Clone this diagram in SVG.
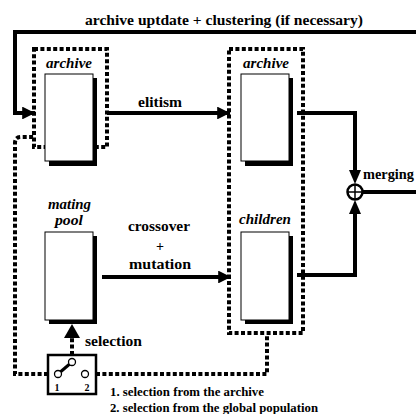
<svg xmlns="http://www.w3.org/2000/svg" width="416" height="414" viewBox="0 0 416 414">
<defs>
<style>
text{font-family:"Liberation Serif","Times New Roman",serif;font-weight:bold;fill:#000}
.it{font-style:italic}
.dot{fill:none;stroke:#000;stroke-width:4;stroke-dasharray:4 2.4}
.ln{fill:none;stroke:#000;stroke-width:4}
.box{fill:#fff;stroke:#000;stroke-width:1}
</style>
<marker id="ah" viewBox="0 0 10 10" refX="10" refY="5" markerWidth="4" markerHeight="3.2" orient="auto" markerUnits="strokeWidth">
<path d="M0,0 L10,5 L0,10 z" fill="#000"/>
</marker>
</defs>
<rect width="416" height="414" fill="#fff"/>
<g id="connectors">
<path class="ln" d="M416,32 H15 V113 H35" marker-end="url(#ah)"/>
<path class="ln" d="M107,113 H230" marker-end="url(#ah)"/>
<path class="ln" d="M102,277 H231" marker-end="url(#ah)"/>
<path class="ln" d="M297,113 H355 V170"/>
<path d="M349,170 L361,170 L355,184 z" fill="#000"/>
<path class="ln" d="M297,275 H355 V214"/>
<path d="M349,214 L361,214 L355,200 z" fill="#000"/>
<path class="ln" d="M363,192 H416"/>
<path class="dot" d="M48,374 H15 V143 Q15,137 21,137 H34"/>
<path class="dot" d="M96,374 H267 V334"/>
<path class="dot" d="M72,355 V338"/>
<path d="M64,338 L80,338 L72,324 z" fill="#000"/>
</g>
<g id="archive-left">
<rect class="dot" x="34" y="49" width="73" height="98"/>
<text class="it" x="46" y="68" font-size="14" textLength="46" lengthAdjust="spacingAndGlyphs">archive</text>
<rect x="49" y="78" width="48" height="88" fill="#000"/>
<rect class="box" x="45" y="74" width="48" height="87"/>
</g>
<g id="population-right">
<rect class="dot" x="229" y="49" width="74" height="284"/>
<text class="it" x="243" y="68" font-size="14" textLength="46" lengthAdjust="spacingAndGlyphs">archive</text>
<rect x="245" y="78" width="48" height="88" fill="#000"/>
<rect class="box" x="241" y="74" width="48" height="87"/>
<text class="it" x="239" y="224" font-size="14" textLength="52" lengthAdjust="spacingAndGlyphs">children</text>
<rect x="245" y="236" width="48" height="88" fill="#000"/>
<rect class="box" x="241" y="232" width="48" height="88"/>
</g>
<g id="mating-pool">
<text class="it" x="48" y="209" font-size="14" textLength="43" lengthAdjust="spacingAndGlyphs">mating</text>
<text class="it" x="55" y="225" font-size="14" textLength="28" lengthAdjust="spacingAndGlyphs">pool</text>
<rect x="49" y="236" width="48" height="88" fill="#000"/>
<rect class="box" x="45" y="232" width="48" height="88"/>
</g>
<g id="merging">
<circle cx="355" cy="192" r="7.5" fill="#fff" stroke="#000" stroke-width="2.5"/>
<path d="M347.5,192 H362.5 M355,184.5 V199.5" stroke="#000" stroke-width="1.5"/>
<text x="363" y="179" font-size="14" textLength="51" lengthAdjust="spacingAndGlyphs">merging</text>
</g>
<g id="switch">
<rect x="48" y="355" width="48" height="39" fill="#fff" stroke="#000" stroke-width="2.5"/>
<path d="M58,374 L72,362" stroke="#000" stroke-width="3"/>
<circle cx="58" cy="374" r="3.5" fill="#fff" stroke="#000" stroke-width="1.3"/>
<circle cx="72" cy="362" r="3.5" fill="#fff" stroke="#000" stroke-width="1.3"/>
<circle cx="85" cy="374" r="3.5" fill="#fff" stroke="#000" stroke-width="1.3"/>
<text x="57" y="391" text-anchor="middle" font-size="10">1</text>
<text x="87" y="391" text-anchor="middle" font-size="10">2</text>
</g>
<g id="labels">
<text x="85" y="25" font-size="14.5" textLength="278" lengthAdjust="spacingAndGlyphs">archive uptdate + clustering (if necessary)</text>
<text x="138" y="107" font-size="14" textLength="44" lengthAdjust="spacingAndGlyphs">elitism</text>
<text x="128" y="231" font-size="14" textLength="62" lengthAdjust="spacingAndGlyphs">crossover</text>
<text x="160" y="251" text-anchor="middle" font-size="14">+</text>
<text x="129" y="269" font-size="14" textLength="62" lengthAdjust="spacingAndGlyphs">mutation</text>
<text x="85" y="346" font-size="14" textLength="57" lengthAdjust="spacingAndGlyphs">selection</text>
<text x="110" y="396" font-size="12" textLength="154" lengthAdjust="spacingAndGlyphs">1. selection from the archive</text>
<text x="110" y="412" font-size="12" textLength="208" lengthAdjust="spacingAndGlyphs">2. selection from the global population</text>
</g>
</svg>
